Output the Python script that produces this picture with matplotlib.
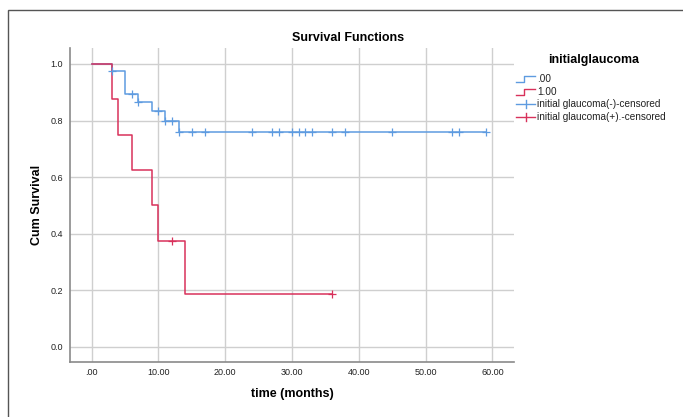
import numpy as np
import matplotlib
matplotlib.use("Agg")
import matplotlib.pyplot as plt
from matplotlib.lines import Line2D
from matplotlib.patches import Rectangle

plt.rcParams['font.family'] = ['Liberation Sans', 'DejaVu Sans']

# survival steps (time, cum survival) per group
t_neg = [0, 3, 5, 7, 9, 11, 13, 59]
s_neg = [1.0, 0.976, 0.895, 0.866, 0.833, 0.800, 0.759, 0.759]
t_pos = [0, 3, 4, 6, 9, 10, 14, 36]
s_pos = [1.0, 0.875, 0.75, 0.625, 0.5, 0.375, 0.1875, 0.1875]

# censored times
c_neg = [3, 6, 7, 10, 11, 12, 13, 15, 17, 24, 27, 28, 30, 31, 32, 33, 36, 38, 45, 54, 55, 59]
c_pos = [12, 36]

xticks = [0, 10, 20, 30, 40, 50, 60]
xlabels = ['.00', '10.00', '20.00', '30.00', '40.00', '50.00', '60.00']
yticks = [0.0, 0.2, 0.4, 0.6, 0.8, 1.0]
ylabels = ['0.0', '0.2', '0.4', '0.6', '0.8', '1.0']

blue = '#5e9be0'
red = '#d8315b'


def surv_at(times, surv, c):
    idx = np.searchsorted(times, c, side='right') - 1
    return np.array(surv)[idx]


fig = plt.figure(figsize=(6.83, 4.17), dpi=100)
ax = fig.add_axes([0.1018, 0.1319, 0.6508, 0.753])

ax.step(t_neg, s_neg, where='post', color=blue, lw=1.1, zorder=3)
ax.step(t_pos, s_pos, where='post', color=red, lw=1.1, zorder=3)
ax.plot(c_neg, surv_at(t_neg, s_neg, c_neg), ls='none', marker='+',
        ms=6, mew=0.9, color=blue, zorder=4)
ax.plot(c_pos, surv_at(t_pos, s_pos, c_pos), ls='none', marker='+',
        ms=6, mew=0.9, color=red, zorder=4)

ax.set_xlim(-3.32, 63.25)
ax.set_ylim(-0.053, 1.0565)
ax.set_xticks(xticks)
ax.set_xticklabels(xlabels)
ax.set_yticks(yticks)
ax.set_yticklabels(ylabels)
ax.tick_params(length=0, labelsize=6.5, colors='#222222', pad=4.5)
ax.grid(True, color='#cfcfcf', lw=1)
ax.set_axisbelow(True)
for s in ['top', 'right']:
    ax.spines[s].set_visible(False)
for s in ['left', 'bottom']:
    ax.spines[s].set_color('#8a8a8a')
    ax.spines[s].set_linewidth(1.2)

fig.text(292 / 683, 1 - 394 / 417, 'time (months)', ha='center', va='center',
         fontsize=9, fontweight='bold')
fig.text(37 / 683, 1 - 205 / 417, 'Cum Survival', ha='center', va='center',
         rotation=90, fontsize=9, fontweight='bold')
fig.text(348 / 683, 1 - 38 / 417, 'Survival Functions', ha='center', va='center',
         fontsize=9, fontweight='bold')

# legend drawn by hand to mimic SPSS step icons
W, H = 683.0, 417.0
fig.text(548 / W, 1 - 60 / H, 'initialglaucoma', ha='left', va='center',
         fontsize=8.9, fontweight='bold')
items = [('.00', blue, 'step'), ('1.00', red, 'step'),
         ('initial glaucoma(-)-censored', blue, 'plus'),
         ('initial glaucoma(+).-censored', red, 'plus')]
for i, (lab, col, kind) in enumerate(items):
    yc = 79 + i * 12.7
    if kind == 'step':
        xs = [516, 524, 524, 535]
        ys = [yc + 3, yc + 3, yc - 3, yc - 3]
        fig.add_artist(Line2D([x / W for x in xs], [1 - y / H for y in ys],
                              color=col, lw=1))
    else:
        fig.add_artist(Line2D([516 / W, 535 / W], [1 - yc / H] * 2, color=col, lw=1))
        fig.add_artist(Line2D([525.5 / W] * 2, [1 - (yc - 4) / H, 1 - (yc + 4) / H],
                              color=col, lw=1))
    fig.text(537 / W, 1 - yc / H, lab, ha='left', va='center', fontsize=7.2,
             color='#222222')

# outer frame
fig.add_artist(Rectangle((8 / W, -0.1), 1.2, 1 - 10 / H + 0.1,
                         transform=fig.transFigure, fill=False,
                         ec='#555555', lw=1))

fig.savefig('out.png', dpi=100)
